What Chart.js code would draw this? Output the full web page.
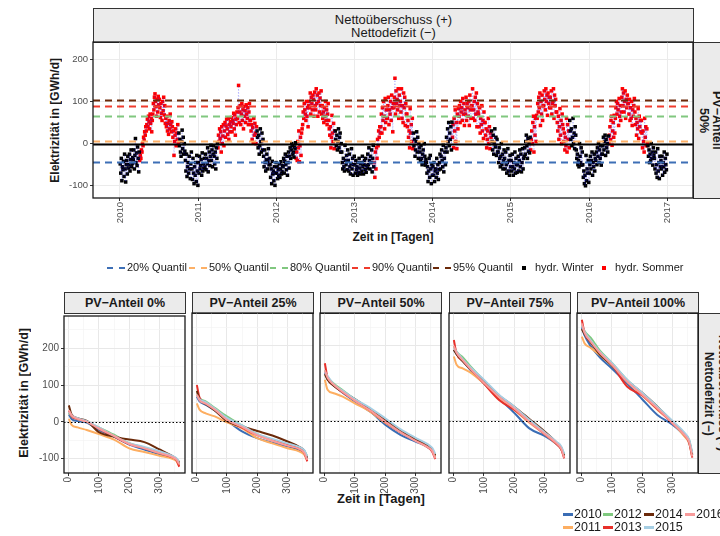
<!DOCTYPE html>
<html>
<head>
<meta charset="utf-8">
<script src="https://cdn.jsdelivr.net/npm/chart.js"></script>
<style>
  body { margin: 0; width: 720px; height: 536px; overflow: hidden; background: #fff;
         font-family: "Liberation Sans", Arial, sans-serif; position: relative; color: #1a1a1a; }
  canvas { position: absolute; }
  .strip { position: absolute; background: #ebebeb; border: 1px solid #333; box-sizing: border-box;
           display: flex; align-items: center; justify-content: center; text-align: center; font-weight: bold; }
  .vert { writing-mode: vertical-rl; }
  .title { position: absolute; font-weight: bold; display: flex; align-items: center; justify-content: center; }
  .leg { position: absolute; font-size: 11px; white-space: nowrap; line-height: 12px; }
  .dash { display: inline-block; width: 18px; height: 2.5px; margin-right: 2px; vertical-align: middle; }
  .sq { display: inline-block; width: 4px; height: 4px; margin-right: 9px; vertical-align: middle; }
  .yl { position: absolute; font-size: 12.5px; white-space: nowrap; line-height: 13px; }
  .yl i { display: inline-block; width: 10px; height: 3px; margin-right: 1px; vertical-align: middle; }
</style>
</head>
<body>
<div class="strip" style="left:93px;top:8px;width:601px;height:35px;font-size:13px;line-height:13px;font-weight:normal;">Nettoüberschuss (+)<br>Nettodefizit (−)</div>
<div class="strip vert" style="left:693px;top:42px;width:34px;height:157px;font-size:12.5px;line-height:13px;">PV−Anteil<br>50%</div>
<div class="title" style="left:48px;top:42px;width:14px;height:156px;font-size:12px;"><span class="vert" style="transform:rotate(180deg)">Elektrizität in [GWh/d]</span></div>
<div class="title" style="left:93px;top:230px;width:600px;height:14px;font-size:12px;">Zeit in [Tagen]</div>
<canvas id="top" width="700" height="230" style="left:0;top:34px;"></canvas>
<div id="topLegend"></div>

<div id="bottomStrips"></div>
<div class="strip vert" style="left:698px;top:313px;width:36px;height:161px;font-size:12px;line-height:14px;">Nettoüberschuss (+)<br>Nettodefizit (−)</div>
<div class="title" style="left:16px;top:313px;width:16px;height:160px;font-size:12.5px;"><span class="vert" style="transform:rotate(180deg)">Elektrizität in [GWh/d]</span></div>
<div class="title" style="left:64px;top:490px;width:634px;height:16px;font-size:13px;">Zeit in [Tagen]</div>
<div id="bottomCharts"></div>
<div id="bottomLegend"></div>

<script>
// daily net balance (12 samples per month), PV share 50 %
const years = [2010, 2011, 2012, 2013, 2014, 2015, 2016];
const netto2010 = [
  -48,-70,-35,-88,-55,-62,-42,-78,-25,-60,-91,-50,  -40,-72,-30,-58,-50,-25,-65,-38,-15,-55,-47,-33,
  -38,-15,-60,-28,12,-45,-22,-52,-8,-35,-67,-20,    -40,-28,-35,-15,-20,0,-5,15,8,28,20,40,
  30,45,58,40,65,52,35,70,48,60,28,55,              70,95,80,110,118,100,88,65,105,75,112,92,
  105,85,62,95,72,55,100,78,110,68,90,48,           60,40,65,30,48,22,55,35,70,45,28,52,
  40,15,30,-28,5,20,35,-5,25,10,45,0,               25,-5,10,-20,-30,5,32,-12,15,-25,0,-18,
  -40,-65,-25,-78,-55,-45,-70,-30,-60,-83,-48,-20,  -60,-85,-35,-70,-95,-55,-75,-45,-90,-28,-65,-99];
const netto2011 = [
  -45,-70,-30,-60,-52,-38,-75,-22,-65,-48,-58,-35,  -55,-25,-62,-35,-48,-10,-67,-40,-20,-52,-30,-4,
  -40,-15,-55,-25,-5,-30,-48,-20,-60,-10,-35,0,     -10,20,5,35,12,28,-20,40,0,18,45,-5,
  30,50,15,42,58,35,22,60,10,45,28,52,              40,62,28,55,48,72,35,68,20,58,45,75,
  60,85,138,50,75,90,45,70,95,55,80,35,             88,65,78,50,92,70,60,85,45,75,95,55,
  55,30,45,10,38,2,60,20,48,25,0,40,                30,15,-10,20,-25,-5,35,5,-20,25,-15,10,
  -30,-55,-15,-45,-65,-38,-25,-60,-42,-12,-50,-35,  -50,-80,-60,-95,-42,-72,-65,-88,-55,-99,-70,-45];
const netto2012 = [
  -70,-55,-83,-62,-75,-48,-80,-60,-43,-72,-66,-52,  -55,-35,-70,-42,-25,-50,-62,-30,-75,-45,-20,-58,
  -30,-10,-35,-15,0,-5,-25,-20,-32,-8,-12,2,        -35,-20,-40,5,-10,30,-43,-5,15,-28,25,35,
  45,75,60,95,80,70,55,100,65,85,40,90,             100,85,120,70,110,95,80,115,105,65,122,90,
  80,130,95,115,65,100,120,75,108,90,125,70,        90,60,75,50,85,65,100,55,80,45,70,95,
  55,35,20,40,-10,15,67,25,5,48,-12,30,             30,10,-5,20,-15,5,35,-10,15,25,-20,0,
  -20,-45,-60,-35,-55,-65,-4,-40,-50,-28,-62,-15,   -40,-65,-25,-55,-72,-48,-12,-60,-35,-75,-50,-30];
const netto2013 = [
  -50,-70,-40,-62,-55,-75,-45,-68,-35,-58,-72,-48,  -45,-65,-30,-55,-72,-50,-40,-62,-35,-68,-52,-58,
  -25,-50,-10,-40,-60,-30,-45,-15,-67,-35,-4,-55,   -45,-80,-20,-60,-10,-35,10,-5,30,15,40,25,
  40,70,25,85,55,100,65,35,107,50,80,60,            60,90,110,45,80,70,100,55,115,85,28,95,
  85,110,155,70,125,95,105,80,130,60,115,90,        100,75,130,60,90,50,120,85,110,43,95,70,
  70,40,55,15,30,-10,83,25,45,5,60,-12,             25,-5,10,-30,-15,5,28,-20,15,-35,0,-10,
  -20,-40,-5,-35,-50,-25,-15,-45,0,-30,-51,-38,     -45,-70,-55,-90,-65,-35,-80,-28,-60,-95,-50,-75];
const netto2014 = [
  -55,-75,-45,-90,-65,-60,-80,-35,-70,-50,-85,-62,  -45,-25,-60,-30,-15,-40,-55,-4,-67,-35,-20,-50,
  -10,15,-20,35,5,50,-5,25,10,40,-15,51,            15,45,-10,60,30,80,5,50,-12,70,35,83,
  65,90,50,100,75,85,55,107,70,95,43,80,            70,110,55,95,85,65,100,43,115,80,60,90,
  90,130,60,80,100,55,110,70,120,40,95,75,          70,40,85,25,60,45,90,30,55,12,75,50,
  50,20,35,-10,10,30,60,0,40,-12,25,15,             30,5,-15,20,-25,0,35,-8,15,-28,10,-20,
  -20,-45,-10,-35,-55,-30,0,-50,-25,-60,-40,-15,    -35,-60,-20,-50,-70,-45,-12,-65,-40,-75,-28,-55];
const netto2015 = [
  -40,-65,-25,-55,-75,-45,-60,-20,-70,-35,-50,-68,  -50,-30,-65,-40,-15,-55,-25,-67,-45,-12,-60,-35,
  -30,-10,-25,5,20,-5,-35,12,-18,0,-22,15,          -15,10,30,0,50,65,-20,40,20,60,5,67,
  60,95,75,110,85,120,43,100,70,115,55,90,          90,125,105,80,130,100,115,67,120,95,110,85,
  110,85,125,70,95,100,130,60,115,90,105,75,        75,50,30,65,10,40,83,20,55,0,70,45,
  35,5,25,-15,15,-5,60,-20,45,10,30,-10,            55,30,10,35,-5,15,60,0,25,-12,40,20,
  -15,-35,-25,-50,-40,-55,0,-30,-45,-10,-51,-20,    -50,-80,-65,-95,-75,-100,-28,-88,-60,-70,-40,-92];
const netto2016 = [
  -70,-50,-30,-60,-40,-20,-75,-45,-55,-25,-65,-35,  -40,-20,-50,-10,-30,0,-45,-15,-35,-5,-51,-25,
  -25,-5,15,-15,5,20,-28,10,-10,0,-20,18,           0,20,40,10,55,65,-4,30,50,15,67,25,
  60,85,100,70,95,80,43,107,65,90,55,75,            110,130,90,120,75,100,125,60,105,85,115,95,
  95,70,105,55,85,60,100,43,80,65,90,107,           75,45,60,20,50,35,83,12,65,40,55,28,
  55,25,-10,30,5,-20,60,15,40,-5,35,0,              -5,-30,-15,-45,-25,-40,0,-35,-20,-51,-10,-28,
  -35,-60,-20,-70,-50,-80,-12,-65,-45,-83,-30,-55,  -40,-60,-30,-75,-45,-55,-20,-68,-35,-50,-62,-25];
const nettoSeries = [netto2010, netto2011, netto2012, netto2013, netto2014, netto2015, netto2016];

const quantileLabels = ["20% Quantil", "50% Quantil", "80% Quantil", "90% Quantil", "95% Quantil"];
const quantileValues = [-44, 7, 66, 89, 103];
const quantileColors = ["#3d6fb6", "#fdb066", "#80c77f", "#ef3b2c", "#6b2a0a"];

// duration curves (sorted daily balance), one row per year 2010..2016
const pvLabels = ["PV−Anteil 0%", "PV−Anteil 25%", "PV−Anteil 50%", "PV−Anteil 75%", "PV−Anteil 100%"];
const durationDays = [1, 10, 30, 60, 100, 150, 200, 250, 300, 340, 355, 365];
const pv0 = [
  [20, 8, 2, -2, -22, -40, -62, -75, -88, -97, -103, -115],
  [8, -8, -15, -22, -33, -48, -72, -82, -92, -100, -106, -120],
  [25, 15, 8, 0, -15, -35, -58, -70, -85, -95, -102, -112],
  [30, 15, 8, 2, -18, -40, -60, -72, -85, -96, -103, -122],
  [45, 20, 10, 3, -28, -40, -48, -55, -75, -92, -100, -110],
  [28, 18, 10, 2, -15, -38, -58, -68, -80, -92, -98, -108],
  [32, 18, 8, 0, -18, -38, -60, -72, -85, -95, -102, -115]];
const pv25 = [
  [65, 52, 43, 28, 2, -28, -46, -58, -68, -78, -85, -100],
  [47, 30, 20, 12, -4, -20, -46, -60, -73, -82, -90, -105],
  [70, 60, 52, 35, 12, -12, -35, -50, -62, -72, -80, -95],
  [96, 62, 48, 30, 2, -18, -38, -52, -65, -75, -85, -108],
  [80, 58, 45, 28, 0, -15, -27, -39, -55, -70, -80, -98],
  [68, 58, 50, 33, 8, -12, -35, -48, -60, -70, -78, -95],
  [70, 55, 46, 30, 3, -16, -38, -53, -66, -75, -85, -104]];
const pv50 = [
  [130, 112, 95, 75, 52, 25, -10, -37, -55, -70, -80, -95],
  [110, 83, 74, 65, 47, 25, -5, -30, -52, -70, -78, -95],
  [135, 118, 100, 82, 58, 32, 2, -25, -48, -65, -75, -92],
  [154, 115, 95, 76, 55, 28, -3, -30, -52, -70, -82, -102],
  [125, 110, 94, 78, 58, 30, 2, -25, -48, -65, -78, -92],
  [132, 120, 98, 80, 58, 35, 7, -22, -45, -62, -72, -88],
  [135, 115, 97, 77, 54, 28, -2, -30, -53, -70, -80, -100]];
const pv75 = [
  [190, 178, 160, 132, 100, 60, 22, -20, -40, -62, -75, -95],
  [172, 150, 140, 127, 100, 62, 30, -5, -35, -62, -75, -98],
  [200, 185, 170, 142, 108, 68, 35, 2, -30, -58, -70, -90],
  [216, 180, 160, 135, 100, 56, 30, -2, -35, -62, -76, -100],
  [190, 178, 160, 135, 105, 68, 38, 5, -28, -58, -72, -92],
  [195, 185, 165, 140, 110, 70, 38, 3, -30, -56, -68, -88],
  [200, 182, 162, 135, 102, 64, 33, -2, -34, -60, -74, -98]];
const pv100 = [
  [250, 228, 200, 170, 140, 100, 58, 16, -10, -40, -58, -90],
  [225, 207, 195, 176, 148, 105, 68, 30, -5, -42, -60, -95],
  [255, 240, 222, 188, 155, 110, 73, 38, -2, -35, -52, -88],
  [270, 235, 210, 180, 150, 92, 68, 32, -6, -38, -58, -98],
  [245, 232, 210, 178, 148, 108, 75, 38, -4, -35, -55, -90],
  [255, 238, 215, 185, 155, 110, 75, 38, 0, -32, -50, -85],
  [260, 235, 212, 182, 150, 105, 70, 34, -6, -38, -57, -95]];
const pvPanels = [pv0, pv25, pv50, pv75, pv100];
const yearColors = ["#3a6db5", "#fdae61", "#7fc97f", "#e8302a", "#6b2a0a", "#a6cee3", "#f89b9b"];

Chart.defaults.font.family = '"Liberation Sans", Arial, sans-serif';
Chart.defaults.color = '#4d4d4d';

// panel border + reference lines
const panelDeco = {
  id: 'panelDeco',
  afterDatasetsDraw(chart, args, opts) {
    const { ctx, chartArea: a } = chart;
    const y = chart.scales.y;
    ctx.save();
    ctx.beginPath();
    ctx.rect(a.left, a.top, a.right - a.left, a.bottom - a.top);
    ctx.clip();
    (opts.lines || []).forEach(l => {
      const py = Math.round(y.getPixelForValue(l.value)) + 0.5;
      ctx.strokeStyle = l.color;
      ctx.lineWidth = l.width;
      ctx.setLineDash(l.dash || []);
      ctx.beginPath();
      ctx.moveTo(a.left, py);
      ctx.lineTo(a.right, py);
      ctx.stroke();
    });
    ctx.restore();
    ctx.save();
    ctx.strokeStyle = '#1a1a1a';
    ctx.lineWidth = 1.3;
    ctx.strokeRect(a.left, a.top, a.right - a.left, a.bottom - a.top);
    ctx.restore();
  }
};

// ---------- top panel ----------
const winterPts = [], sommerPts = [], allPts = [];
nettoSeries.forEach((vals, k) => {
  vals.forEach((v, i) => {
    const p = { x: years[k] + (i + 0.5) / vals.length, y: v };
    const month = Math.floor(i * 12 / vals.length);
    allPts.push(p);
    if (month >= 3 && month <= 8) sommerPts.push(p); else winterPts.push(p);
  });
});

const qLines = quantileValues.map((v, i) => ({ value: v, color: quantileColors[i], width: 2, dash: [7, 5] }));
qLines.push({ value: 0, color: '#000', width: 2 });

new Chart(document.getElementById('top'), {
  type: 'scatter',
  data: {
    datasets: [
      { data: allPts, showLine: true, borderColor: 'rgba(30,30,255,0.45)', borderWidth: 0.7,
        borderDash: [1, 2], pointRadius: 0, order: 0 },
      { data: winterPts, pointStyle: 'rect', pointRadius: 2.5, backgroundColor: '#000', borderWidth: 0, order: 1 },
      { data: sommerPts, pointStyle: 'rect', pointRadius: 2.5, backgroundColor: '#ff0000', borderWidth: 0, order: 2 }
    ]
  },
  options: {
    responsive: false, animation: false, devicePixelRatio: 1,
    layout: { autoPadding: false, padding: { top: 8, right: 7, left: 0, bottom: 0 } },
    plugins: { legend: { display: false }, tooltip: { enabled: false },
               panelDeco: { lines: qLines } },
    scales: {
      x: {
        type: 'linear', min: 2009.655, max: 2017.33,
        afterBuildTicks: s => { s.ticks = years.concat([2017]).map(v => ({ value: v })); },
        afterFit: s => { s.height = 66; },
        ticks: { minRotation: 90, maxRotation: 90, autoSkip: false, padding: 1,
                 font: { size: 9.5 }, callback: v => String(v) },
        grid: { color: '#ebebeb', lineWidth: 1, tickLength: 3, tickColor: '#333' },
        border: { display: false }
      },
      y: {
        min: -129, max: 241,
        afterBuildTicks: s => { s.ticks = [-100, 0, 100, 200].map(v => ({ value: v })); },
        afterFit: s => { s.width = 93; },
        ticks: { padding: 2, font: { size: 9.5 } },
        grid: { color: '#ebebeb', lineWidth: 1, tickLength: 3, tickColor: '#333' },
        border: { display: false }
      }
    }
  },
  plugins: [panelDeco]
});

// top legend
const topLegend = document.getElementById('topLegend');
const qLeft = [107, 189, 270, 352, 433];
quantileLabels.forEach((lab, i) => {
  const c = quantileColors[i];
  topLegend.insertAdjacentHTML('beforeend',
    `<div class="leg" style="left:${qLeft[i]}px;top:261px"><span class="dash" style="background:linear-gradient(to right, ${c} 0 6px, transparent 6px 12px, ${c} 12px 18px)"></span>${lab}</div>`);
});
topLegend.insertAdjacentHTML('beforeend',
  `<div class="leg" style="left:522px;top:261px"><span class="sq" style="background:#000"></span>hydr. Winter</div>` +
  `<div class="leg" style="left:602px;top:261px"><span class="sq" style="background:#ff0000"></span>hydr. Sommer</div>`);

// ---------- bottom panels ----------
const panelLeft = [64, 192, 320, 449, 577];
const panelW = 121, panelTop = 313, panelH = 160, yAxisW = 30, padT = 5, padR = 5, xAxisH = 36;
const strips = document.getElementById('bottomStrips');
const holder = document.getElementById('bottomCharts');
const isMajor = c => c.tick && c.tick.value % 100 === 0;

pvPanels.forEach((rows, p) => {
  strips.insertAdjacentHTML('beforeend',
    `<div class="strip" style="left:${panelLeft[p]}px;top:292px;width:${panelW + 1}px;height:22px;font-size:12.5px;">${pvLabels[p]}</div>`);
  const cv = document.createElement('canvas');
  cv.width = yAxisW + panelW + padR;
  cv.height = padT + panelH + xAxisH;
  cv.style.left = (panelLeft[p] - yAxisW) + 'px';
  cv.style.top = (panelTop - padT) + 'px';
  holder.appendChild(cv);

  new Chart(cv, {
    type: 'line',
    data: {
      datasets: rows.map((vals, k) => ({
        label: String(years[k]),
        data: vals.map((v, i) => ({ x: durationDays[i], y: v })),
        borderColor: yearColors[k], borderWidth: 2, pointRadius: 0,
        cubicInterpolationMode: 'monotone', order: rows.length - k
      }))
    },
    options: {
      responsive: false, animation: false, devicePixelRatio: 1,
      layout: { autoPadding: false, padding: { top: padT, right: padR, left: 0, bottom: 0 } },
      plugins: { legend: { display: false }, tooltip: { enabled: false },
                 panelDeco: { lines: [{ value: 0, color: '#000', width: 1, dash: [1.5, 2] }] } },
      scales: {
        x: {
          type: 'linear', min: -15, max: 384,
          afterBuildTicks: s => { s.ticks = [0, 50, 100, 150, 200, 250, 300, 350].map(v => ({ value: v })); },
          afterFit: s => { s.height = xAxisH; },
          ticks: { minRotation: 90, maxRotation: 90, autoSkip: false, padding: 1,
                   font: { size: 10 }, callback: v => (v % 100 === 0 ? String(v) : '') },
          grid: { color: c => isMajor(c) ? '#e8e8e8' : '#f4f4f4', lineWidth: c => isMajor(c) ? 1 : 0.7,
                  tickLength: 3, tickColor: c => isMajor(c) ? '#333' : 'rgba(0,0,0,0)' },
          border: { display: false }
        },
        y: {
          min: -139, max: 288,
          afterBuildTicks: s => { s.ticks = [-100, -50, 0, 50, 100, 150, 200, 250].map(v => ({ value: v })); },
          afterFit: s => { s.width = yAxisW; },
          ticks: { display: p === 0, padding: 2, font: { size: 10 },
                   callback: v => (v % 100 === 0 ? String(v) : '') },
          grid: { color: c => isMajor(c) ? '#e8e8e8' : '#f4f4f4', lineWidth: c => isMajor(c) ? 1 : 0.7,
                  drawTicks: p === 0, tickLength: 3,
                  tickColor: c => isMajor(c) ? '#333' : 'rgba(0,0,0,0)' },
          border: { display: false }
        }
      }
    },
    plugins: [panelDeco]
  });
});

// bottom legend (two rows, column-major like the original)
const bottomLegend = document.getElementById('bottomLegend');
const legCols = [563, 603, 644, 685];
years.forEach((yr, k) => {
  const col = Math.floor(k / 2), row = k % 2;
  bottomLegend.insertAdjacentHTML('beforeend',
    `<div class="yl" style="left:${legCols[col]}px;top:${508 + row * 13}px"><i style="background:${yearColors[k]}"></i>${yr}</div>`);
});
</script>
</body>
</html>
